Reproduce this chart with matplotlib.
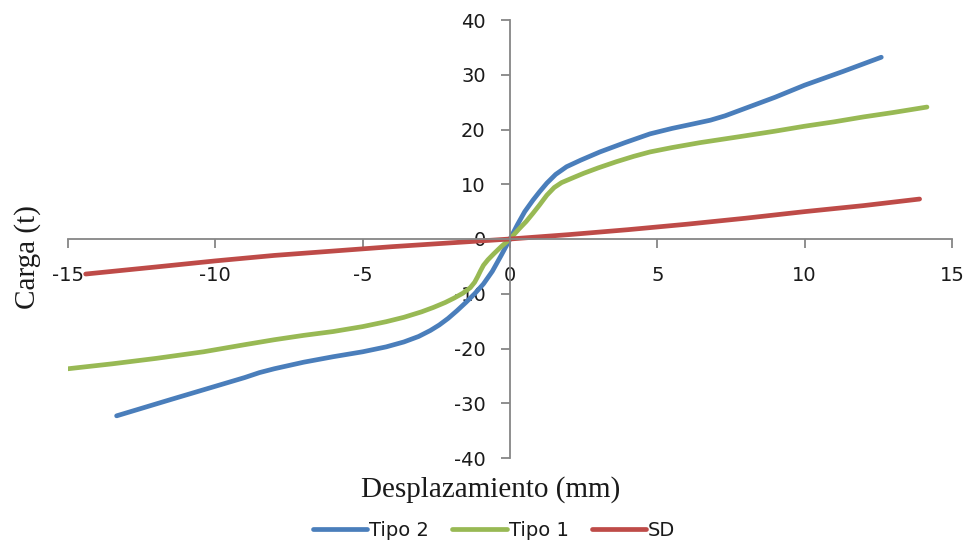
import numpy as np
import matplotlib.pyplot as plt

plt.rcParams['axes.unicode_minus'] = False

# data
tipo2_x = [-13.35, -11.5, -10.0, -9.0, -8.5, -8.0, -7.5, -7.0, -6.0, -5.0, -4.2, -3.6, -3.1, -2.7,
           -2.4, -2.1, -1.8, -1.5, -1.2, -0.9, -0.6, -0.3, 0.0, 0.25, 0.5, 0.78, 1.0, 1.25, 1.55,
           1.92, 2.4, 3.05, 3.9, 4.75, 5.5, 6.2, 6.8, 7.3, 7.8, 8.5, 9.0, 10.0, 11.3, 12.6]
tipo2_y = [-32.3, -29.3, -26.9, -25.3, -24.4, -23.7, -23.1, -22.5, -21.5, -20.6, -19.7, -18.8, -17.8,
           -16.7, -15.7, -14.5, -13.1, -11.6, -10.0, -8.2, -5.9, -3.0, 0.0, 2.6, 5.0, 7.1, 8.6, 10.2,
           11.8, 13.2, 14.4, 15.9, 17.6, 19.2, 20.2, 21.0, 21.7, 22.5, 23.5, 24.9, 25.9, 28.1, 30.6, 33.2]

tipo1_x = [-15.0, -13.5, -12.0, -10.4, -9.0, -8.0, -7.0, -6.0, -5.0, -4.2, -3.6, -3.0, -2.6, -2.2,
           -1.9, -1.6, -1.35, -1.2, -1.1, -1.0, -0.9, -0.75, -0.55, -0.3, 0.0, 0.3, 0.55, 0.78,
           1.0, 1.25, 1.5, 1.75, 2.1, 2.5, 3.0, 3.6, 4.2, 4.75, 5.5, 6.45, 7.8, 9.0, 10.0, 11.0,
           12.0, 13.0, 14.15]
tipo1_y = [-23.7, -22.8, -21.8, -20.6, -19.3, -18.4, -17.6, -16.9, -16.0, -15.1, -14.3, -13.3, -12.5,
           -11.6, -10.8, -9.9, -8.9, -7.9, -6.9, -5.8, -4.8, -3.8, -2.7, -1.4, 0.0, 1.8, 3.2, 4.7,
           6.2, 8.0, 9.4, 10.3, 11.1, 12.0, 13.0, 14.1, 15.1, 15.9, 16.7, 17.6, 18.7, 19.7, 20.6, 21.4,
           22.3, 23.1, 24.1]

sd_x = [-14.4, -12.0, -10.0, -8.0, -6.0, -4.0, -2.0, 0.0, 2.0, 4.0, 6.0, 8.0, 10.0, 12.0, 13.9]
sd_y = [-6.4, -5.1, -4.0, -3.0, -2.2, -1.4, -0.7, 0.0, 0.8, 1.7, 2.7, 3.8, 5.0, 6.1, 7.3]

xticks = [-15, -10, -5, 0, 5, 10, 15]
yticks = [-40, -30, -20, -10, 0, 10, 20, 30, 40]

axis_grey = '#868686'
text_col = '#1a1a1a'

fig = plt.figure(figsize=(9.68, 5.5), dpi=100)
ax = fig.add_axes([68/968, 1 - 458/550, 884/968, 438/550])

lw = 3.4
ax.plot(tipo2_x, tipo2_y, color='#4A7EBB', lw=lw, solid_capstyle='round', solid_joinstyle='round', label='Tipo 2')
ax.plot(tipo1_x, tipo1_y, color='#98B954', lw=lw, solid_capstyle='round', solid_joinstyle='round', label='Tipo 1')
ax.plot(sd_x, sd_y, color='#BE4B48', lw=lw, solid_capstyle='round', solid_joinstyle='round', label='SD')

ax.set_xlim(-15, 15)
ax.set_ylim(-40, 40)
ax.set_xticks(xticks)
ax.set_yticks(yticks)

for side in ['top', 'right']:
    ax.spines[side].set_visible(False)
for side in ['left', 'bottom']:
    ax.spines[side].set_position(('data', 0))
    ax.spines[side].set_color(axis_grey)
    ax.spines[side].set_linewidth(1.3)

ax.tick_params(axis='x', direction='out', length=6.5, width=1.3, color=axis_grey,
               labelsize=14, labelcolor=text_col, pad=13)
ax.tick_params(axis='y', direction='out', length=6.5, width=1.3, color=axis_grey,
               labelsize=14, labelcolor=text_col, pad=11)

fig.text(491/968, 1 - 490/550, 'Desplazamiento (mm)', family='Liberation Serif',
         fontsize=21, ha='center', va='center', color=text_col)
fig.text(28/968, 1 - 257/550, 'Carga (t)', family='Liberation Serif',
         fontsize=21, ha='center', va='center', rotation=90, color=text_col)

fig.legend(loc='center', bbox_to_anchor=(494/968, 1 - 530/550), ncol=3, frameon=False,
           fontsize=14, handlelength=2.8, handletextpad=0.1, columnspacing=1.2,
           labelcolor=text_col)

fig.savefig('out.png', dpi=100)
